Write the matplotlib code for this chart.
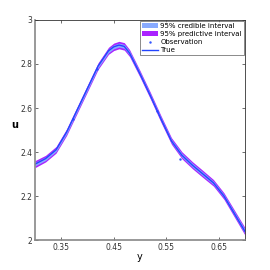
import numpy as np
import matplotlib
matplotlib.use("Agg")
import matplotlib.pyplot as plt

# position y and field u
y_pos = [0.30, 0.32, 0.34, 0.36, 0.38, 0.40, 0.42, 0.44, 0.45, 0.46, 0.47,
         0.48, 0.50, 0.52, 0.54, 0.56, 0.58, 0.60, 0.62, 0.64, 0.66, 0.68, 0.70]
u_true = [2.345, 2.37, 2.41, 2.49, 2.59, 2.69, 2.79, 2.86, 2.878, 2.886, 2.88,
          2.85, 2.755, 2.655, 2.55, 2.45, 2.385, 2.34, 2.30, 2.26, 2.20, 2.12, 2.04]
cred_half = [0.008, 0.008, 0.008, 0.008, 0.008, 0.008, 0.008, 0.009, 0.009, 0.009, 0.009,
             0.009, 0.008, 0.008, 0.008, 0.008, 0.009, 0.009, 0.009, 0.008, 0.008, 0.009, 0.010]
pred_half = [0.016, 0.015, 0.015, 0.015, 0.015, 0.015, 0.015, 0.016, 0.017, 0.017, 0.017,
             0.016, 0.015, 0.015, 0.015, 0.015, 0.016, 0.016, 0.016, 0.015, 0.015, 0.016, 0.017]
obs_y = [0.372, 0.418, 0.532, 0.577]
obs_u = [2.552, 2.775, 2.588, 2.368]

x = np.array(y_pos)
u = np.array(u_true)
cw = np.array(cred_half)
pw = np.array(pred_half)

fig = plt.figure(figsize=(2.7, 2.7), dpi=100)
ax = fig.add_axes([0.13, 0.111, 0.777, 0.815])

ax.fill_between(x, u - pw, u + pw, color="#aa22ff", lw=0, label="95% predictive interval")
ax.fill_between(x, u - cw, u + cw, color="#88aaff", lw=0, label="95% credible interval")
ax.plot(obs_y, obs_u, ".", color="#3355ff", ms=1.5, label="Observation")
ax.plot(x, u, color="#2244ff", lw=1.0, label="True")

ax.set_xlim(0.3, 0.7)
ax.set_ylim(2, 3)
ax.set_xticks([0.35, 0.45, 0.55, 0.65])
ax.set_xticklabels(["0.35", "0.45", "0.55", "0.65"])
ax.set_yticks([2, 2.2, 2.4, 2.6, 2.8, 3])
ax.set_yticklabels(["2", "2.2", "2.4", "2.6", "2.8", "3"])
ax.tick_params(direction="in", length=2, width=0.5, labelsize=5.5,
               top=True, right=True, colors="#333333", pad=2)
ax.set_xlabel("y", fontsize=7, labelpad=0)
ax.set_ylabel("u", fontsize=7, rotation=0, labelpad=4, fontweight="bold")
for side in ["left", "bottom"]:
    ax.spines[side].set_color("#888888")
    ax.spines[side].set_linewidth(1.2)
for side in ["top", "right"]:
    ax.spines[side].set_color("#333333")
    ax.spines[side].set_linewidth(0.6)

h, l = ax.get_legend_handles_labels()
order = [1, 0, 2, 3]
leg = ax.legend([h[i] for i in order], [l[i] for i in order], loc="upper right",
                prop={"family": "Liberation Sans Narrow", "size": 5},
                frameon=True, fancybox=False, borderpad=0.3,
                labelspacing=0.3, handlelength=2.3, handletextpad=0.3,
                borderaxespad=0.15)
leg.get_frame().set_edgecolor("#333333")
leg.get_frame().set_linewidth(0.5)

fig.savefig("out.png", dpi=100)
